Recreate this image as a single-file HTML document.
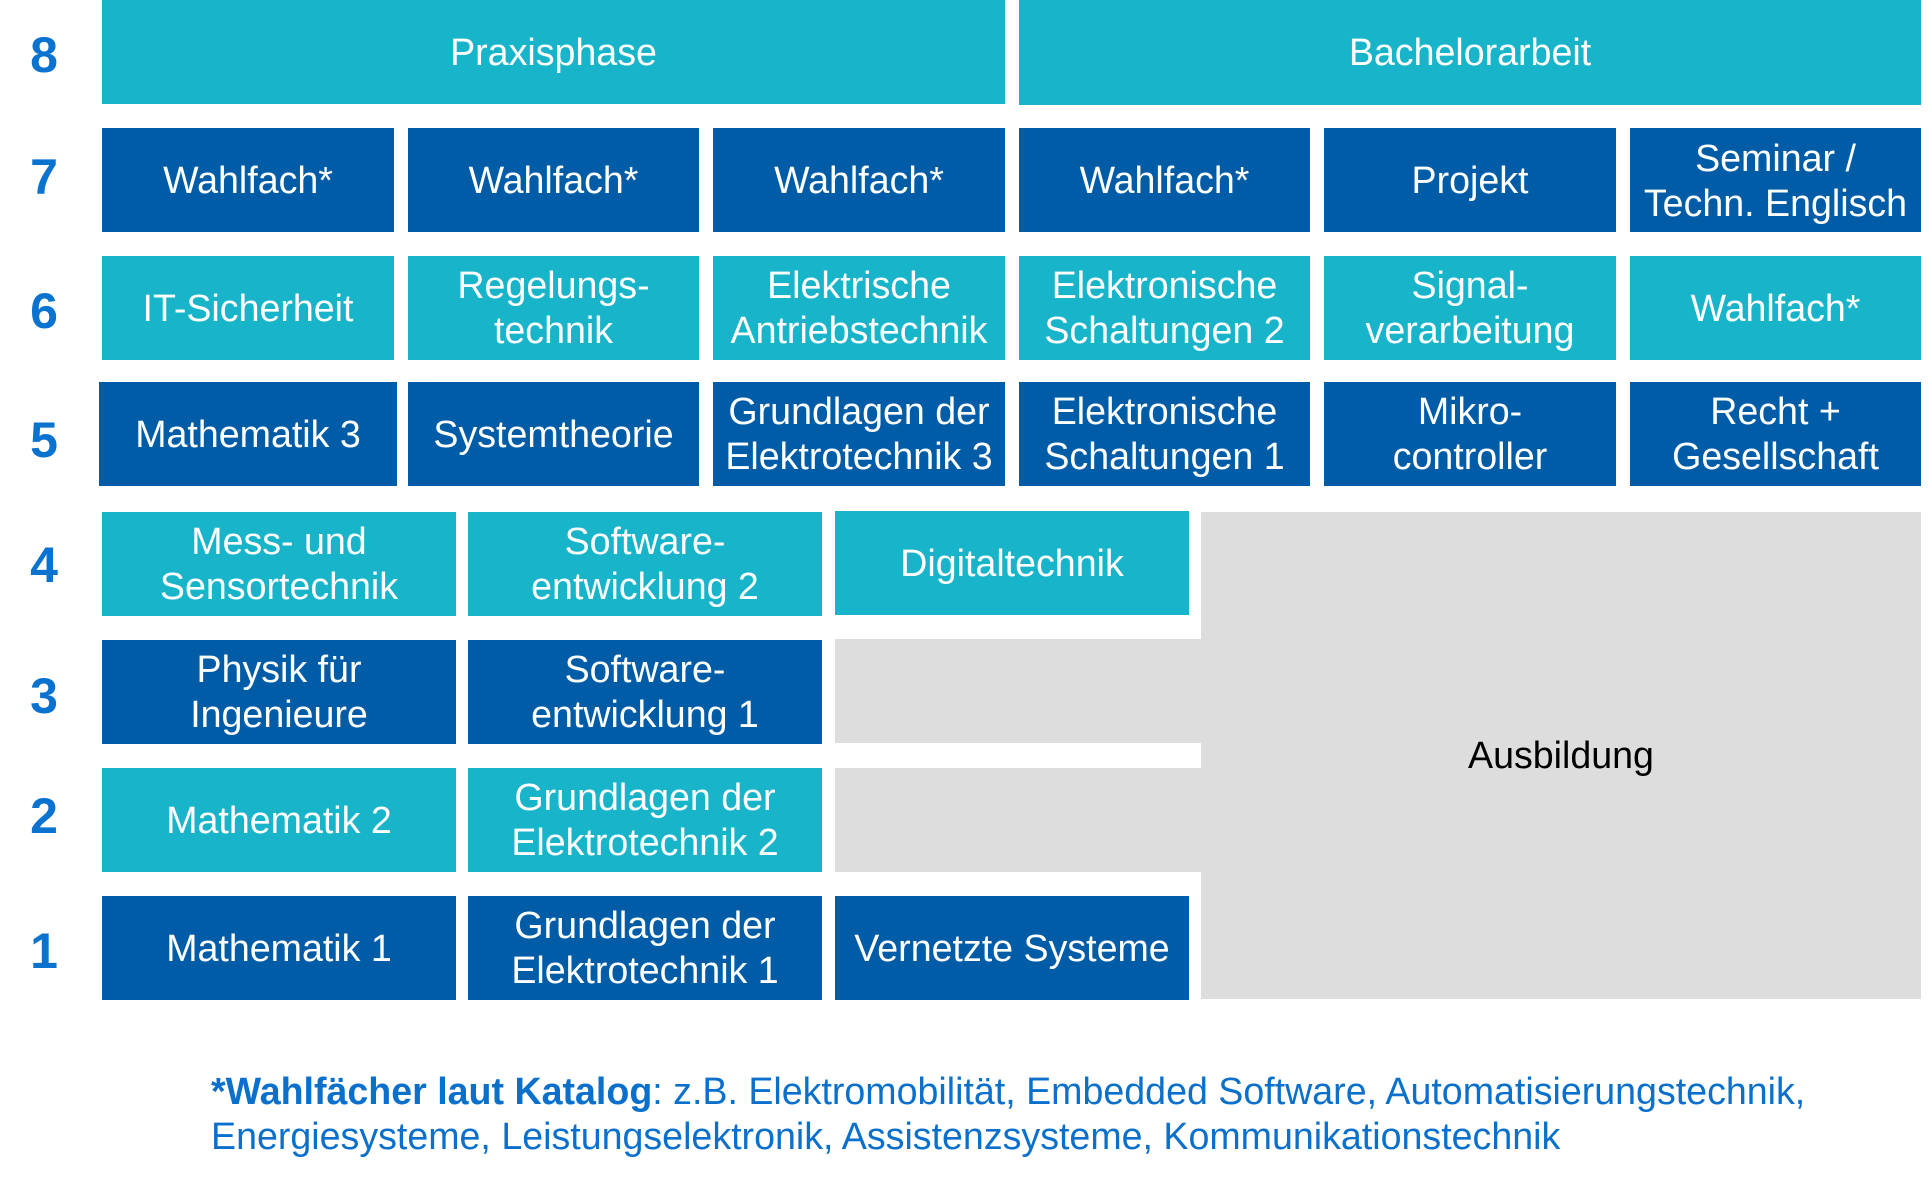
<!DOCTYPE html>
<html>
<head>
<meta charset="utf-8">
<style>
  html, body { margin:0; padding:0; background:#ffffff; }
  body { width:1932px; height:1182px; position:relative; overflow:hidden;
         font-family:"Liberation Sans", Arial, sans-serif; }
  .b { position:absolute; display:flex; align-items:center; justify-content:center;
       text-align:center; color:#ffffff; font-size:37.6px; line-height:45px; white-space:nowrap; }
  .c { background:#17b4ca; }
  .d { background:#005ca7; }
  .g { position:absolute; background:#dddddd; }
  .n { position:absolute; left:0; width:88px; text-align:center; font-weight:bold;
       font-size:50px; line-height:50px; color:#0a72cf; }
  .foot { position:absolute; left:211px; top:1069px; font-size:37.6px; line-height:45px;
          color:#0a70cc; white-space:nowrap; }
</style>
</head>
<body>

<!-- semester numbers -->
<div class="n" style="top:30px;">8</div>
<div class="n" style="top:152px;">7</div>
<div class="n" style="top:286px;">6</div>
<div class="n" style="top:415px;">5</div>
<div class="n" style="top:540px;">4</div>
<div class="n" style="top:671px;">3</div>
<div class="n" style="top:791px;">2</div>
<div class="n" style="top:926px;">1</div>

<!-- Row 8 -->
<div class="b c" style="left:102px; top:0; width:903px; height:104px;">Praxisphase</div>
<div class="b c" style="left:1019px; top:0; width:902px; height:105px;">Bachelorarbeit</div>

<!-- Row 7 -->
<div class="b d" style="left:102px; top:128px; width:292px; height:104px;">Wahlfach*</div>
<div class="b d" style="left:408px; top:128px; width:291px; height:104px;">Wahlfach*</div>
<div class="b d" style="left:713px; top:128px; width:292px; height:104px;">Wahlfach*</div>
<div class="b d" style="left:1019px; top:128px; width:291px; height:104px;">Wahlfach*</div>
<div class="b d" style="left:1324px; top:128px; width:292px; height:104px;">Projekt</div>
<div class="b d" style="left:1630px; top:128px; width:291px; height:104px; padding-top:1px; box-sizing:border-box;">Seminar /<br>Techn. Englisch</div>

<!-- Row 6 -->
<div class="b c" style="left:102px; top:256px; width:292px; height:104px;">IT-Sicherheit</div>
<div class="b c" style="left:408px; top:256px; width:291px; height:104px;">Regelungs-<br>technik</div>
<div class="b c" style="left:713px; top:256px; width:292px; height:104px;">Elektrische<br>Antriebstechnik</div>
<div class="b c" style="left:1019px; top:256px; width:291px; height:104px;">Elektronische<br>Schaltungen 2</div>
<div class="b c" style="left:1324px; top:256px; width:292px; height:104px;">Signal-<br>verarbeitung</div>
<div class="b c" style="left:1630px; top:256px; width:291px; height:104px;">Wahlfach*</div>

<!-- Row 5 -->
<div class="b d" style="left:99px; top:382px; width:298px; height:104px;">Mathematik 3</div>
<div class="b d" style="left:408px; top:382px; width:291px; height:104px;">Systemtheorie</div>
<div class="b d" style="left:713px; top:382px; width:292px; height:104px;">Grundlagen der<br>Elektrotechnik 3</div>
<div class="b d" style="left:1019px; top:382px; width:291px; height:104px;">Elektronische<br>Schaltungen 1</div>
<div class="b d" style="left:1324px; top:382px; width:292px; height:104px;">Mikro-<br>controller</div>
<div class="b d" style="left:1630px; top:382px; width:291px; height:104px;">Recht +<br>Gesellschaft</div>

<!-- Gray areas -->
<div class="g" style="left:1201px; top:512px; width:720px; height:487px;"></div>
<div class="g" style="left:835px; top:639px; width:366px; height:104px;"></div>
<div class="g" style="left:835px; top:768px; width:366px; height:104px;"></div>
<div class="b" style="left:1201px; top:512px; width:720px; height:487px; color:#000000;">Ausbildung</div>

<!-- Row 4 -->
<div class="b c" style="left:102px; top:512px; width:354px; height:104px;">Mess- und<br>Sensortechnik</div>
<div class="b c" style="left:468px; top:512px; width:354px; height:104px;">Software-<br>entwicklung 2</div>
<div class="b c" style="left:835px; top:511px; width:354px; height:104px;">Digitaltechnik</div>

<!-- Row 3 -->
<div class="b d" style="left:102px; top:640px; width:354px; height:104px;">Physik für<br>Ingenieure</div>
<div class="b d" style="left:468px; top:640px; width:354px; height:104px;">Software-<br>entwicklung 1</div>

<!-- Row 2 -->
<div class="b c" style="left:102px; top:768px; width:354px; height:104px;">Mathematik 2</div>
<div class="b c" style="left:468px; top:768px; width:354px; height:104px;">Grundlagen der<br>Elektrotechnik 2</div>

<!-- Row 1 -->
<div class="b d" style="left:102px; top:896px; width:354px; height:104px;">Mathematik 1</div>
<div class="b d" style="left:468px; top:896px; width:354px; height:104px;">Grundlagen der<br>Elektrotechnik 1</div>
<div class="b d" style="left:835px; top:896px; width:354px; height:104px;">Vernetzte Systeme</div>

<!-- Footnote -->
<div class="foot"><b>*Wahlfächer laut Katalog</b>: z.B. Elektromobilität, Embedded Software, Automatisierungstechnik,<br>Energiesysteme, Leistungselektronik, Assistenzsysteme, Kommunikationstechnik</div>

</body>
</html>
